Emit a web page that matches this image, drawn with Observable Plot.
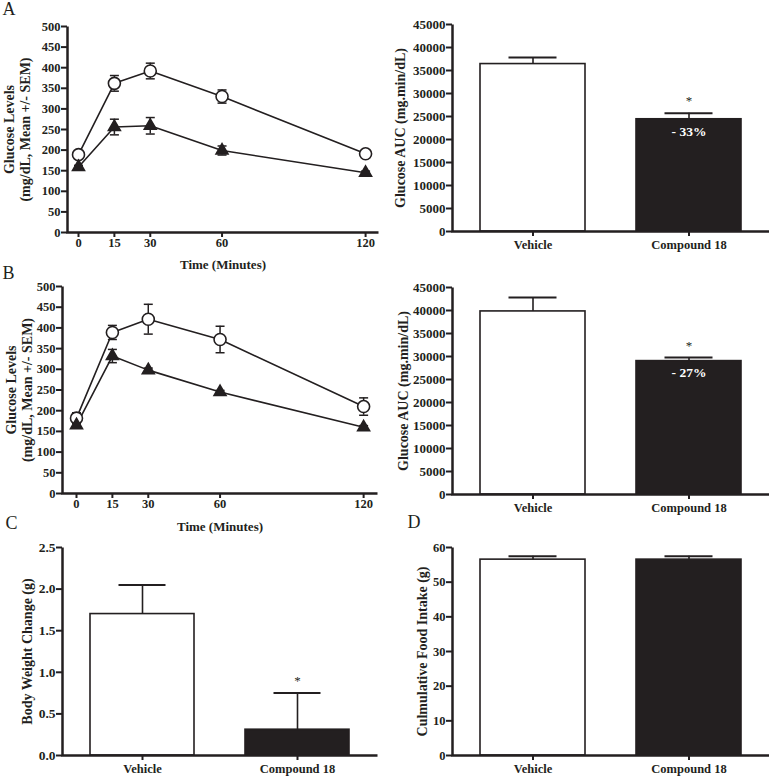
<!DOCTYPE html>
<html><head><meta charset="utf-8">
<script src="https://cdn.jsdelivr.net/npm/d3@7"></script>
<script src="https://cdn.jsdelivr.net/npm/@observablehq/plot@0.6"></script>
<style>
body{margin:0;background:#fff;}
#fig{position:relative;width:769px;height:776px;overflow:hidden;background:#fff;}
#fig svg{position:absolute;overflow:visible;}
</style></head><body><div id="fig"></div>
<script>
// ---- data ----
const times = [0, 15, 30, 60, 120];
const timeTicks = [0, 15, 30, 60, 120];
const aVehicleMean = [189, 362, 392, 330, 191];
const aVehicleSem  = [5, 19, 19, 16, 5];
const aCmpdMean    = [159, 256, 259, 199, 145];
const aCmpdSem     = [4, 19, 20, 11, 4];
const bVehicleMean = [182, 389, 421, 372, 210];
const bVehicleSem  = [13, 17, 36, 32, 21];
const bCmpdMean    = [165, 332, 298, 245, 160];
const bCmpdSem     = [5, 16, 5, 4, 4];
const groups = ["Vehicle", "Compound 18"];
const aucAMean = [36400, 24400];
const aucAErr  = [1400, 1300];
const aucAStar = ["", "*"];
const aucAPct  = ["", "- 33%"];
const aucBMean = [39800, 29000];
const aucBErr  = [3000, 800];
const aucBStar = ["", "*"];
const aucBPct  = ["", "- 27%"];
const bwMean = [1.70, 0.31];
const bwErr  = [0.35, 0.44];
const bwStar = ["", "*"];
const foodMean = [56.5, 56.5];
const foodErr  = [1.0, 1.0];
const glucoseTicks = d3.range(0, 501, 50);
const aucTicks = d3.range(0, 45001, 5000);
const bwTicks = [0, 0.5, 1.0, 1.5, 2.0, 2.5];
const foodTicks = d3.range(0, 61, 10);

const INK = "#231f20";
const SERIF = "'Liberation Serif', 'Times New Roman', serif";
const fig = document.getElementById("fig");
const capSymbol = {draw(ctx, size) { const r = Math.sqrt(size / Math.PI); ctx.moveTo(-r, 0); ctx.lineTo(r, 0); }};

function place(svg, left, top) {
  svg.style.left = left + "px";
  svg.style.top = top + "px";
  fig.appendChild(svg);
}
function axisFrame(W, H, mL, mR, mT, mB) {
  const fw = W - mL - mR, fh = H - mT - mB;
  return Plot.frame({stroke: INK, strokeWidth: 2.5, strokeDasharray: `0 ${fw + fh} ${fw + fh}`});
}
const baseStyle = (fs) => ({background: "transparent", overflow: "visible", fontFamily: SERIF, fontSize: fs + "px", fontWeight: "bold", color: INK});

function linePanel(o) {
  const W = 384, H = 260;
  const rows = (m, s) => times.map((t, i) => ({t, y: m[i], e: s[i]}));
  const veh = rows(o.vm, o.vs), cmp = rows(o.cm, o.cs);
  const all = veh.concat(cmp);
  const svg = Plot.plot({
    width: W, height: H,
    marginLeft: o.mL, marginRight: o.mR, marginTop: o.mT, marginBottom: o.mB,
    style: baseStyle(12.5),
    x: {domain: o.xDomain, label: null},
    y: {domain: [0, 500], label: null},
    marks: [
      axisFrame(W, H, o.mL, o.mR, o.mT, o.mB),
      Plot.axisY({ticks: glucoseTicks, tickSize: 6, tickPadding: 1, strokeWidth: 2, fontFamily: SERIF, fontSize: 12.5, fontWeight: "bold", label: null}),
      Plot.axisX({ticks: timeTicks, tickSize: 5, tickPadding: 1, strokeWidth: 2, fontFamily: SERIF, fontSize: 12.5, fontWeight: "bold", label: null}),
      Plot.ruleX(all, {x: "t", y1: d => d.y - d.e, y2: d => d.y + d.e, stroke: INK, strokeWidth: 1.5}),
      Plot.dot(all, {x: "t", y: d => d.y + d.e, symbol: capSymbol, r: 4.5, stroke: INK, strokeWidth: 1.5}),
      Plot.dot(all, {x: "t", y: d => d.y - d.e, symbol: capSymbol, r: 4.5, stroke: INK, strokeWidth: 1.5}),
      Plot.line(veh, {x: "t", y: "y", stroke: INK, strokeWidth: 1.6}),
      Plot.line(cmp, {x: "t", y: "y", stroke: INK, strokeWidth: 1.6}),
      Plot.dot(veh, {x: "t", y: "y", r: 6, fill: "white", stroke: INK, strokeWidth: 1.6}),
      Plot.dot(cmp, {x: "t", y: "y", symbol: "triangle", r: 4.5, fill: INK, stroke: INK}),
      Plot.text(["Time (Minutes)"], {frameAnchor: "bottom", dy: o.xtDy, lineAnchor: "middle", textAnchor: "middle", fontFamily: SERIF, fontSize: 13, fontWeight: "bold", fill: INK}),
      Plot.text(["Glucose Levels\n(mg/dL, Mean +/- SEM)"], {frameAnchor: "left", rotate: -90, dx: o.ytDx, lineAnchor: "middle", textAnchor: "middle", lineHeight: 1.15, fontFamily: SERIF, fontSize: 14, fontWeight: "bold", fill: INK}),
      Plot.text([o.letter], {frameAnchor: "top-left", dx: o.lDx, dy: o.lDy, textAnchor: "start", lineAnchor: "middle", fontFamily: SERIF, fontSize: 18, fontWeight: "normal", fill: INK})
    ]
  });
  place(svg, o.left, o.top);
}

function barPanel(o) {
  const data = groups.map((g, i) => ({g, v: o.vals[i], e: o.errs[i], star: o.star ? o.star[i] : "", pct: o.pct ? o.pct[i] : ""}));
  const svg = Plot.plot({
    width: o.W, height: o.H,
    marginLeft: o.mL, marginRight: o.mR, marginTop: o.mT, marginBottom: o.mB,
    style: baseStyle(o.tickSize),
    x: {domain: groups, paddingInner: 0.33, paddingOuter: 0.18, label: null},
    y: {domain: o.yDomain, label: null},
    marks: [
      Plot.barY(data.filter(d => d.g === "Vehicle"), {x: "g", y: "v", fill: "white", stroke: INK, strokeWidth: 1.6}),
      Plot.barY(data.filter(d => d.g !== "Vehicle"), {x: "g", y: "v", fill: INK, stroke: INK, strokeWidth: 1.6}),
      Plot.ruleX(data, {x: "g", y1: "v", y2: d => d.v + d.e, stroke: INK, strokeWidth: 1.6}),
      Plot.tickY(data, {x: "g", y: d => d.v + d.e, insetLeft: 28.5, insetRight: 28.5, stroke: INK, strokeWidth: 2}),
      axisFrame(o.W, o.H, o.mL, o.mR, o.mT, o.mB),
      Plot.axisY({ticks: o.yTicks, tickFormat: o.fmt, tickSize: 6, tickPadding: 1, strokeWidth: 2, fontFamily: SERIF, fontSize: o.tickSize, fontWeight: "bold", label: null}),
      Plot.axisX({tickSize: 5, tickPadding: 4, strokeWidth: 2, fontFamily: SERIF, fontSize: 12.5, fontWeight: "bold", label: null}),
      Plot.text(data, {x: "g", y: d => d.v + d.e, text: "star", dy: -12, fontFamily: SERIF, fontSize: 13, fontWeight: "normal", fill: INK}),
      Plot.text(data, {x: "g", y: "v", text: "pct", dy: 12, fontFamily: SERIF, fontSize: 13.5, fontWeight: "bold", fill: "white"}),
      Plot.text([o.title], {frameAnchor: "left", rotate: -90, dx: o.ytDx, lineAnchor: "middle", textAnchor: "middle", fontFamily: SERIF, fontSize: 14, fontWeight: "bold", fill: INK}),
      ...(o.letter ? [Plot.text([o.letter], {frameAnchor: "top-left", dx: o.lDx, dy: o.lDy, textAnchor: "start", lineAnchor: "middle", fontFamily: SERIF, fontSize: 18, fontWeight: "normal", fill: INK})] : [])
    ]
  });
  place(svg, o.left, o.top);
}

linePanel({vm: aVehicleMean, vs: aVehicleSem, cm: aCmpdMean, cs: aCmpdSem, left: 0, top: 0,
  mL: 67, mR: 6, mT: 26, mB: 28, xDomain: [-4.6, 125.4], xtDy: 32, ytDx: -51, letter: "A", lDx: -65, lDy: -17.5});
linePanel({vm: bVehicleMean, vs: bVehicleSem, cm: bCmpdMean, cs: bCmpdSem, left: 0, top: 260,
  mL: 62, mR: 7, mT: 26, mB: 27, xDomain: [-5.85, 125.8], xtDy: 33, ytDx: -44, letter: "B", lDx: -60, lDy: -13});

barPanel({vals: aucAMean, errs: aucAErr, star: aucAStar, pct: aucAPct, left: 384, top: 0, W: 385, H: 260,
  mL: 68, mR: 0, mT: 24, mB: 29, yDomain: [0, 45000], yTicks: aucTicks, fmt: d => String(d),
  tickSize: 13, title: "Glucose AUC (mg.min/dL)", ytDx: -52});
barPanel({vals: aucBMean, errs: aucBErr, star: aucBStar, pct: aucBPct, left: 384, top: 260, W: 385, H: 260,
  mL: 68, mR: 0, mT: 27, mB: 26, yDomain: [0, 45000], yTicks: aucTicks, fmt: d => String(d),
  tickSize: 13, title: "Glucose AUC (mg.min/dL)", ytDx: -49});
barPanel({vals: bwMean, errs: bwErr, star: bwStar, left: 0, top: 520, W: 384, H: 256,
  mL: 62, mR: 7, mT: 27, mB: 21, yDomain: [0, 2.5], yTicks: bwTicks, fmt: d3.format(".1f"),
  tickSize: 13.5, title: "Body Weight Change (g)", ytDx: -35, letter: "C", lDx: -57, lDy: -24});
barPanel({vals: foodMean, errs: foodErr, left: 384, top: 520, W: 385, H: 256,
  mL: 68, mR: 0, mT: 27, mB: 21, yDomain: [0, 60], yTicks: foodTicks, fmt: d => String(d),
  tickSize: 12.5, title: "Culmulative Food Intake (g)", ytDx: -30, letter: "D", lDx: -45, lDy: -25.5});
</script></body></html>
